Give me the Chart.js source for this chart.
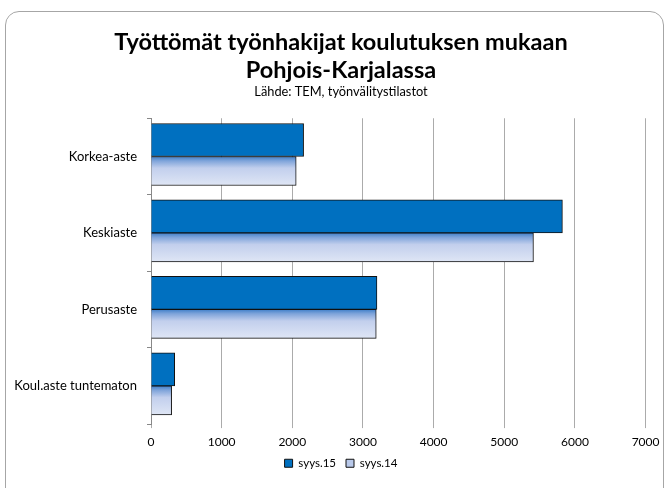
<!DOCTYPE html>
<html>
<head>
<meta charset="utf-8">
<script src="https://cdn.jsdelivr.net/npm/chart.js@4"></script>
<style>
  html, body { margin: 0; padding: 0; background: #fff; }
  #wrap { position: relative; width: 666px; height: 488px; }
  #frame { position: absolute; left: 5px; top: 11px; width: 657px; height: 490px;
           border: 1px solid #a6a6a6; border-radius: 14px; pointer-events: none; }
</style>
</head>
<body>
<div id="wrap">
  <canvas id="chart" width="666" height="488"></canvas>
  <div id="frame"></div>
</div>
<script>
// ── data ──
const CATEGORIES = ['Korkea-aste', 'Keskiaste', 'Perusaste', 'Koul.aste tuntematon'];
const SERIES_NAMES = ['syys.15', 'syys.14'];
const SYYS15 = [2160, 5823, 3198, 335];
const SYYS14 = [2055, 5413, 3188, 292];
const X_MAX = 7000;
const X_STEP = 1000;

const DARK = '#0070c0';

// vertical gradient for the lighter bars, built from the bar's own pixel band
function lightFill(c) {
  const chart = c.chart;
  const ys = chart.scales && chart.scales.y;
  if (!ys || c.dataIndex === undefined || !chart.chartArea) return '#c5d2ee';
  const mid = ys.getPixelForValue(c.dataIndex);
  const g = chart.ctx.createLinearGradient(0, mid, 0, mid + 29);
  g.addColorStop(0, '#3f7fc9');
  g.addColorStop(0.15, '#7fa4da');
  g.addColorStop(0.4, '#c2cfed');
  g.addColorStop(1, '#dfe6f5');
  return g;
}

// title/subtitle/legend are centred a bit right of the canvas middle,
// and the legend sits closer to the axis labels than layout gives it
const shiftBoxes = {
  id: 'shiftBoxes',
  afterLayout(chart) {
    chart.boxes.forEach(b => {
      if (b.axis) return;
      b.left += 12; b.right += 12;
      if (b.position === 'bottom') { b.top -= 8; b.bottom -= 8; }
    });
  }
};

new Chart(document.getElementById('chart'), {
  type: 'bar',
  data: {
    labels: CATEGORIES,
    datasets: [
      { label: SERIES_NAMES[0], data: SYYS15, backgroundColor: DARK, borderColor: '#111', borderWidth: 1, barThickness: 33 },
      { label: SERIES_NAMES[1], data: SYYS14, backgroundColor: lightFill, borderColor: '#111', borderWidth: 1, barThickness: 29 }
    ]
  },
  options: {
    indexAxis: 'y',
    responsive: false,
    animation: false,
    layout: { padding: { left: 10, right: 18, top: 6, bottom: 1 } },
    plugins: {
      title: {
        display: true,
        text: ['Työttömät työnhakijat koulutuksen mukaan', 'Pohjois-Karjalassa'],
        color: '#000',
        font: { family: 'Lato, sans-serif', size: 23.5, weight: 'bold', lineHeight: 1.2 },
        padding: { top: 22, bottom: 0 }
      },
      subtitle: {
        display: true,
        text: 'Lähde: TEM, työnvälitystilastot',
        color: '#000',
        font: { family: 'Lato, sans-serif', size: 12.8 },
        padding: { top: 0, bottom: 18.5 }
      },
      legend: {
        position: 'bottom',
        labels: {
          color: '#000',
          font: { family: 'Lato, sans-serif', size: 11.5 },
          boxWidth: 8, boxHeight: 8, padding: 10,
          generateLabels: chart => chart.data.datasets.map((d, i) => ({
            text: d.label,
            fillStyle: i === 0 ? DARK : '#b9c9ea',
            strokeStyle: '#111',
            lineWidth: 1,
            datasetIndex: i
          }))
        }
      },
      tooltip: { enabled: false }
    },
    scales: {
      x: {
        min: 0, max: X_MAX,
        ticks: { stepSize: X_STEP, color: '#000', font: { family: 'Lato, sans-serif', size: 12 }, padding: 6.5,
                 callback: v => String(v) },
        grid: { color: '#ababab', lineWidth: 1, tickLength: 4, drawTicks: true },
        border: { display: false }
      },
      y: {
        ticks: { color: '#000', font: { family: 'Lato, sans-serif', size: 13 }, padding: 10 },
        grid: { offset: true, drawOnChartArea: false, tickLength: 4, color: '#888' },
        border: { display: true, color: '#888' },
        afterFit: s => { s.width = 141; }
      }
    }
  },
  plugins: [shiftBoxes]
});
</script>
</body>
</html>
